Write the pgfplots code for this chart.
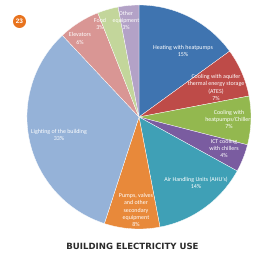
\documentclass[border=0pt]{standalone}
\usepackage{pgfplots}
\pgfplotsset{compat=1.18}
\usepackage{fontspec}
\setmainfont{Carlito}
\newfontfamily\titlefont{DejaVu Sans}
\newfontfamily\badgefont{Liberation Sans}
\definecolor{c1}{HTML}{3F74B0}
\definecolor{c2}{HTML}{BE4B48}
\definecolor{c3}{HTML}{93B84F}
\definecolor{c4}{HTML}{7A5CA0}
\definecolor{c5}{HTML}{3FA0B6}
\definecolor{c6}{HTML}{E8893A}
\definecolor{c7}{HTML}{95B2D8}
\definecolor{c8}{HTML}{D99694}
\definecolor{c9}{HTML}{C3D69B}
\definecolor{c10}{HTML}{B3A2C7}
\definecolor{badge}{HTML}{E8731E}
\definecolor{titlec}{HTML}{2B2B2B}
\def\piedata{15/c1,7/c2,7/c3,4/c4,14/c5,8/c6,33/c7,6/c8,3/c9,3/c10}
\begin{document}
\begin{tikzpicture}
\path[use as bounding box] (0,0) rectangle (257bp,255bp);
\begin{axis}[at={(139bp,138bp)}, anchor=center, x=112bp, y=112bp,
  xmin=-1, xmax=1, ymin=-1, ymax=1, hide axis, clip=false, enlargelimits=false]
\gdef\cum{0}
\foreach \v/\c in \piedata {
  \pgfmathsetmacro\a{90-3.6*\cum}
  \pgfmathsetmacro\b{90-3.6*(\cum+\v)}
  \edef\temp{\noexpand\fill[\c, draw=white, line width=0.3pt] (axis cs:0,0) -- (axis cs:{cos(\a)},{sin(\a)}) arc[start angle=\a, end angle=\b, radius=112bp] -- cycle;}
  \temp
  \pgfmathsetmacro\newcum{\cum+\v}
  \xdef\cum{\newcum}
}
\end{axis}
\begin{scope}[every node/.style={text=white, align=center, font=\fontsize{6.0}{7.4}\selectfont, inner sep=0pt}]
\node at (183bp,204bp) {Heating with heatpumps\\15\%};
\node at (216bp,167.5bp) {Cooling with aquifer\\thermal energy storage\\(ATES)\\7\%};
\node at (229bp,135.5bp) {Cooling with\\heatpumps/Chillers\\7\%};
\node at (224bp,106.5bp) {ICT cooling\\with chillers\\4\%};
\node at (196bp,72bp) {Air Handling Units (AHU's)\\14\%};
\node at (136bp,45bp) {Pumps, valves\\and other\\secondary\\equipment\\8\%};
\node at (59bp,120bp) {Lighting of the building\\33\%};
\node at (80bp,216.5bp) {Elevators\\6\%};
\node at (100bp,231bp) {Food\\3\%};
\node at (126bp,234.5bp) {Other\\equipment\\3\%};
\end{scope}
\fill[badge] (19.5bp,233.5bp) circle (6.5bp);
\node[text=white, font=\badgefont\bfseries\fontsize{6.5}{8}\selectfont] at (19.5bp,233.5bp) {23};
\node[text=titlec, font=\titlefont\bfseries\fontsize{8.6}{10}\selectfont] at (132.5bp,9bp) {BUILDING ELECTRICITY USE};
\end{tikzpicture}
\end{document}
